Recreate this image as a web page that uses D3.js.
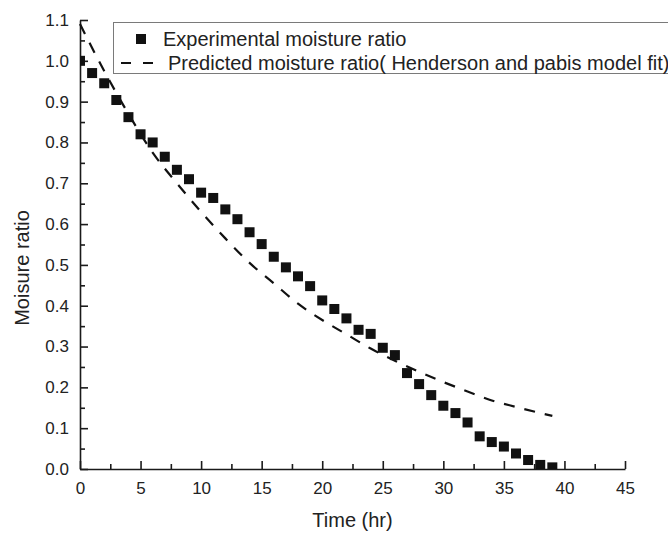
<!DOCTYPE html>
<meta charset="utf-8">
<head>
    <meta charset="utf-8">
    <title>Moisture ratio</title>
    <script type="text/javascript" src="https://d3js.org/d3.v7.min.js"></script>
</head>

<style type="text/css">
    body {
        margin: 0;
        background-color: #ffffff;
    }

    svg {
        display: block;
        font-family: "Liberation Sans", Arial, Helvetica, sans-serif;
    }

    .axis path, .axis line {
        stroke: #1a1a1a;
        stroke-width: 1.6px;
    }

    .axis text {
        font-size: 17px;
        fill: #222;
    }

    .label {
        font-size: 20px;
        fill: #222;
    }
</style>

<body>
    <div id="my_dataviz"></div>

    <script>
        // experimental points (time in hr, moisture ratio)
        const timeHr = [0, 1, 2, 3, 4, 5, 6, 7, 8, 9, 10, 11, 12, 13, 14, 15, 16, 17, 18, 19,
            20, 21, 22, 23, 24, 25, 26, 27, 28, 29, 30, 31, 32, 33, 34, 35, 36, 37, 38, 39];
        const experimentalMR = [1.0, 0.97, 0.945, 0.904, 0.862, 0.82, 0.80, 0.765, 0.733, 0.71,
            0.677, 0.664, 0.636, 0.612, 0.58, 0.551, 0.52, 0.494, 0.472, 0.448,
            0.413, 0.392, 0.369, 0.341, 0.331, 0.297, 0.279, 0.235, 0.208, 0.181,
            0.155, 0.137, 0.114, 0.08, 0.066, 0.055, 0.038, 0.022, 0.01, 0.004];

        // dashed model curve
        const fitTime = [0, 2, 4, 6, 8, 10, 12, 14, 16, 18, 20, 22, 24, 26, 28, 30, 32, 34, 36, 38, 39];
        const predictedMR = [1.09, 0.975, 0.87, 0.775, 0.70, 0.63, 0.565, 0.505, 0.455, 0.405,
            0.365, 0.33, 0.295, 0.265, 0.238, 0.213, 0.19, 0.168, 0.152, 0.137, 0.13];

        const xTicks = [0, 5, 10, 15, 20, 25, 30, 35, 40, 45];
        const yTicks = [0.0, 0.1, 0.2, 0.3, 0.4, 0.5, 0.6, 0.7, 0.8, 0.9, 1.0, 1.1];

        const legendLabels = ["Experimental moisture ratio",
            "Predicted moisture ratio( Henderson and pabis model fit)"];

        // dimensions
        const margin = { top: 20, right: 43, bottom: 67, left: 80 },
            width = 668 - margin.left - margin.right,
            height = 536 - margin.top - margin.bottom;

        const svg = d3.select("#my_dataviz")
            .append("svg")
            .attr("width", 668)
            .attr("height", 536);

        const g = svg.append("g")
            .attr("transform", `translate(${margin.left},${margin.top})`);

        const x = d3.scaleLinear().domain([0, 45]).range([0, width]);
        const y = d3.scaleLinear().domain([0, 1.1]).range([height, 0]);

        // clip marks to plot area
        g.append("clipPath").attr("id", "plotclip")
            .append("rect")
            .attr("width", width).attr("height", height);

        // minor ticks
        g.append("g")
            .attr("class", "axis")
            .attr("transform", `translate(0,${height})`)
            .call(d3.axisBottom(x).tickValues(d3.range(2.5, 45, 5)).tickSize(-5).tickFormat(""))
            .select(".domain").remove();
        g.append("g")
            .attr("class", "axis")
            .call(d3.axisLeft(y).tickValues(d3.range(0.05, 1.1, 0.1)).tickSize(-5).tickFormat(""))
            .select(".domain").remove();

        // major axes
        g.append("g")
            .attr("class", "axis")
            .attr("transform", `translate(0,${height})`)
            .call(d3.axisBottom(x).tickValues(xTicks).tickSize(-8).tickSizeOuter(0).tickPadding(13)
                .tickFormat(d3.format("d")));
        g.append("g")
            .attr("class", "axis")
            .call(d3.axisLeft(y).tickValues(yTicks).tickSize(-8).tickSizeOuter(0).tickPadding(11)
                .tickFormat(d3.format(".1f")));

        // dashed model line
        const line = d3.line()
            .x((d, i) => x(fitTime[i]))
            .y(d => y(d))
            .curve(d3.curveMonotoneX);

        g.append("path")
            .datum(predictedMR)
            .attr("d", line)
            .attr("fill", "none")
            .attr("stroke", "#111")
            .attr("stroke-width", 2.2)
            .attr("stroke-dasharray", "11,10");

        // squares
        const sq = 10;
        g.append("g")
            .attr("clip-path", "url(#plotclip)")
            .selectAll("rect")
            .data(experimentalMR)
            .join("rect")
            .attr("x", (d, i) => x(timeHr[i]) - sq / 2)
            .attr("y", d => y(d) - sq / 2)
            .attr("width", sq)
            .attr("height", sq)
            .attr("fill", "#111");

        // legend
        const legend = svg.append("g");
        legend.append("rect")
            .attr("x", 113.5).attr("y", 22.5)
            .attr("width", 600).attr("height", 51)
            .attr("fill", "white")
            .attr("stroke", "#7a7a7a")
            .attr("stroke-width", 1);
        legend.append("rect")
            .attr("x", 141 - sq / 2).attr("y", 39 - sq / 2)
            .attr("width", sq).attr("height", sq)
            .attr("fill", "#111");
        legend.append("line")
            .attr("x1", 121).attr("x2", 154)
            .attr("y1", 63).attr("y2", 63)
            .attr("stroke", "#111")
            .attr("stroke-width", 2.2)
            .attr("stroke-dasharray", "10,12");
        legend.append("text")
            .attr("class", "label")
            .attr("x", 163).attr("y", 46)
            .text(legendLabels[0]);
        legend.append("text")
            .attr("class", "label")
            .attr("x", 168).attr("y", 70)
            .text(legendLabels[1]);

        // axis titles
        svg.append("text")
            .attr("class", "label")
            .attr("text-anchor", "middle")
            .attr("x", margin.left + width / 2)
            .attr("y", 527)
            .text("Time (hr)");

        svg.append("text")
            .attr("class", "label")
            .attr("text-anchor", "middle")
            .attr("transform", "translate(29,268) rotate(-90)")
            .text("Moisure ratio");
    </script>
</body>
</html>
